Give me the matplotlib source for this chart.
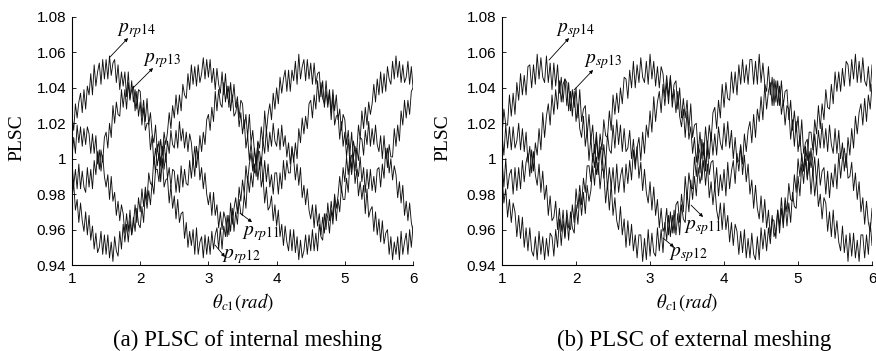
import matplotlib
matplotlib.use("Agg")
import matplotlib.pyplot as plt
import numpy as np

# theta_c1 sampled every 0.025 rad from 1 to 6 (201 samples)
THETA_START = 1.0
THETA_STOP = 6.0

# PLSC values, stored as (PLSC - 1) * 1000
# (a) internal meshing
INT_P14 = [24, 16, 31, 23, 32, 37, 26, 39, 28, 41, 36, 48, 36, 53, 41, 49, 54, 42, 56, 45,
           56, 45, 58, 47, 54, 56, 43, 53, 39, 49, 41, 49, 35, 49, 34, 39, 41, 27, 38, 24,
           32, 19, 29, 16, 20, 20, 5, 13, -3, 6, -4, 3, -13, 0, -16, -12, -11, -25, -15, -28,
           -21, -34, -23, -36, -31, -30, -45, -36, -50, -41, -49, -40, -54, -39, -54, -47, -44, -56, -43, -54,
           -44, -54, -41, -51, -43, -39, -51, -39, -51, -38, -44, -32, -43, -25, -37, -28, -22, -31, -16, -24,
           -12, -20, -4, -13, -3, 3, -7, 6, -4, 10, 6, 18, 8, 27, 15, 25, 31, 22, 37, 28,
           40, 31, 46, 37, 45, 50, 38, 50, 38, 50, 44, 55, 42, 59, 45, 52, 56, 44, 56, 45,
           54, 42, 54, 42, 48, 49, 35, 44, 29, 38, 29, 37, 22, 36, 19, 24, 25, 11, 21, 7,
           15, 1, 11, -3, 2, 2, -14, -6, -21, -13, -23, -15, -31, -17, -33, -29, -27, -41, -30, -43,
           -34, -47, -35, -48, -42, -40, -54, -44, -57, -47, -54, -44, -57, -41, -54, -47, -42, -54, -40, -50,
           -38]
INT_P12 = [-22, -14, -29, -23, -36, -25, -35, -41, -30, -43, -32, -46, -38, -51, -42, -53, -50, -41, -54, -43,
           -54, -43, -56, -47, -58, -44, -52, -55, -41, -51, -37, -47, -37, -47, -35, -43, -37, -26, -36, -22,
           -30, -17, -27, -16, -24, -8, -14, -15, 1, -8, 8, -1, 11, 2, 15, 8, 15, 26, 17, 30,
           23, 36, 25, 36, 27, 42, 36, 34, 48, 39, 53, 42, 52, 41, 53, 43, 48, 57, 45, 56,
           46, 56, 43, 51, 39, 51, 42, 37, 49, 36, 48, 34, 41, 27, 36, 24, 26, 32, 18, 26,
           14, 22, 6, 13, -1, 9, -2, -8, 2, -12, -2, -16, -10, -25, -16, -29, -27, -21, -35, -26,
           -38, -29, -44, -37, -49, -38, -47, -52, -40, -52, -40, -53, -44, -57, -46, -56, -52, -43, -54, -43,
           -52, -40, -52, -42, -52, -37, -44, -46, -31, -40, -25, -35, -24, -34, -20, -28, -21, -10, -19, -5,
           -13, 1, -9, 3, -6, 10, 5, 4, 19, 11, 27, 17, 29, 19, 32, 25, 31, 42, 32, 45,
           36, 49, 37, 48, 38, 52, 45, 42, 55, 45, 58, 46, 55, 43, 53, 43, 46, 55, 42, 52,
           40]
INT_P13 = [-2, -15, -6, -17, -3, -17, -7, -16, -19, -5, -16, -6, -17, -1, -9, 4, -6, 5, -2, 12,
           15, 6, 20, 12, 30, 20, 32, 25, 24, 39, 29, 39, 28, 43, 33, 44, 32, 39, 28, 39,
           38, 24, 33, 21, 34, 19, 26, 14, 9, 19, 4, 10, -4, 7, -6, 3, -11, -5, -16, -6,
           -7, -19, -9, -19, -4, -16, -6, -14, -15, -1, -11, 0, -10, 7, 0, 13, 4, 15, 8, 22,
           25, 16, 29, 21, 38, 27, 39, 31, 29, 43, 32, 41, 29, 43, 32, 42, 29, 35, 23, 33,
           31, 17, 25, 12, 25, 9, 16, 4, -1, 9, -6, 1, -13, -1, -13, -3, -16, -9, -20, -8,
           -8, -20, -8, -17, -1, -12, -1, -8, -8, 7, -2, 9, 0, 17, 9, 23, 14, 24, 17, 31,
           33, 23, 36, 28, 44, 32, 43, 34, 31, 44, 31, 39, 26, 39, 27, 36, 22, 28, 16, 25,
           22, 8, 16, 3, 15, 0, 7, -5, -10, 1, -13, -5, -19, -6, -17, -6, -18, -10, -19, -6,
           -5, -16, -3, -11, 6, -5, 8, 1, 1, 17, 7, 19, 10, 27, 19, 33, 23, 33, 25, 38,
           40]
INT_P11 = [1, 12, 3, 19, 9, 18, 7, 17, 8, 18, 14, 3, 14, 3, 13, -3, 5, -7, 2, -10,
           -16, -9, -23, -10, -24, -19, -32, -24, -35, -26, -31, -42, -31, -41, -29, -43, -33, -41, -28, -37,
           -39, -27, -36, -19, -28, -18, -26, -13, -20, -6, -6, -13, 1, -5, 10, -2, 10, 3, 16, 8,
           6, 16, 6, 21, 10, 17, 6, 15, 4, 14, 9, -3, 7, -5, 4, -12, -5, -17, -8, -20,
           -26, -19, -32, -19, -32, -26, -39, -30, -40, -30, -34, -44, -32, -41, -28, -41, -30, -37, -23, -31,
           -32, -20, -28, -10, -19, -8, -16, -3, -10, 4, 4, -4, 10, 3, 17, 4, 15, 7, 20, 10,
           7, 17, 5, 19, 7, 13, 1, 9, -3, 6, 0, -12, -3, -15, -5, -22, -15, -26, -17, -29,
           -34, -26, -39, -26, -38, -31, -43, -33, -42, -31, -33, -42, -29, -37, -23, -35, -23, -30, -16, -23,
           -23, -11, -19, -1, -9, 1, -7, 6, -1, 12, 11, 2, 16, 8, 21, 7, 17, 8, 19, 8,
           4, 13, 0, 13, 0, 6, -8, 0, -12, -4, -9, -22, -13, -25, -15, -32, -24, -35, -25, -36,
           -41]

# (b) external meshing
EXT_P14 = [13, 28, 19, 19, 36, 24, 37, 25, 43, 33, 48, 36, 47, 36, 52, 53, 40, 53, 42, 59,
           45, 57, 46, 43, 58, 43, 54, 39, 54, 41, 53, 37, 46, 32, 45, 43, 27, 38, 24, 38,
           21, 31, 17, 12, 24, 7, 16, -1, 12, -2, 8, -9, -2, -17, -5, -8, -25, -14, -29, -14,
           -32, -22, -35, -40, -27, -43, -34, -50, -35, -49, -37, -52, -43, -56, -43, -43, -58, -45, -57, -40,
           -55, -42, -53, -55, -39, -52, -40, -53, -36, -46, -32, -44, -32, -42, -26, -24, -36, -20, -30, -10,
           -23, -8, -16, -17, 1, -10, 4, -8, 11, 2, 18, 6, 19, 10, 26, 29, 17, 33, 23, 42,
           29, 43, 34, 33, 49, 37, 49, 36, 53, 42, 56, 43, 53, 42, 56, 56, 42, 55, 42, 59,
           43, 54, 42, 38, 52, 36, 46, 30, 44, 30, 41, 25, 33, 19, 30, 28, 11, 22, 7, 21,
           4, 13, -1, -7, 6, -11, -3, -20, -6, -21, -11, -27, -20, -34, -22, -25, -41, -30, -44, -29,
           -45, -35, -47, -52, -38, -53, -43, -58, -42, -55, -42, -56, -46, -58, -43, -43, -56, -43, -54, -36,
           -49]
EXT_P12 = [-9, -25, -17, -33, -23, -36, -25, -30, -44, -32, -45, -33, -50, -39, -52, -39, -52, -55, -44, -57,
           -41, -54, -44, -57, -45, -55, -42, -44, -55, -40, -50, -34, -49, -35, -45, -29, -39, -40, -26, -36,
           -17, -28, -15, -26, -11, -19, -4, -4, -13, 3, -5, 12, -1, 14, 5, 22, 13, 12, 27, 16,
           36, 25, 37, 26, 40, 31, 46, 45, 34, 50, 40, 55, 40, 53, 43, 57, 46, 43, 55, 42,
           59, 45, 55, 41, 52, 40, 52, 48, 35, 47, 35, 47, 29, 39, 26, 38, 24, 18, 28, 12,
           27, 11, 18, 3, 12, -2, 8, 3, -12, -1, -15, -3, -22, -13, -26, -15, -29, -35, -25, -40,
           -25, -40, -32, -47, -36, -49, -37, -41, -54, -41, -53, -40, -56, -45, -56, -42, -54, -57, -44, -57,
           -39, -51, -40, -52, -39, -48, -34, -35, -45, -29, -38, -22, -36, -22, -30, -14, -23, -24, -9, -19,
           0, -10, 3, -7, 7, -1, 15, 15, 5, 22, 14, 30, 17, 31, 22, 39, 29, 28, 42, 31,
           49, 38, 49, 38, 51, 41, 55, 53, 41, 56, 45, 59, 43, 55, 43, 57, 44, 41, 52, 38,
           53]
EXT_P13 = [0, -16, 0, -17, -9, -6, -20, -5, -18, -5, -17, -1, -13, -2, 3, -10, 5, -7, 9, 2,
           17, 5, 26, 12, 24, 31, 19, 36, 25, 39, 28, 44, 32, 42, 45, 30, 43, 27, 39, 29,
           40, 23, 39, 21, 28, 30, 13, 25, 10, 19, 3, 15, 0, 6, 6, -11, 0, -17, -5, -16,
           -5, -20, -3, -19, -10, -5, -19, -3, -14, -1, -12, 5, -6, 6, 12, -1, 15, 3, 19, 12,
           27, 15, 35, 21, 32, 38, 26, 42, 30, 43, 31, 46, 33, 42, 44, 28, 40, 23, 34, 23,
           33, 16, 31, 12, 19, 20, 3, 15, 0, 9, -7, 6, -9, -2, -1, -17, -5, -21, -9, -18,
           -6, -21, -2, -17, -7, -1, -14, 3, -7, 7, -3, 14, 4, 16, 21, 9, 25, 12, 28, 21,
           35, 22, 42, 28, 38, 43, 30, 45, 32, 44, 30, 44, 30, 38, 39, 22, 33, 16, 27, 15,
           24, 7, 22, 3, 9, 11, -6, 6, -9, 1, -14, 0, -15, -7, -5, -20, -7, -22, -8, -16,
           -3, -17, 3, -11, 0, 6, -5, 12, 2, 17, 6, 24, 14, 26, 31, 19, 34, 21, 36, 28,
           42]
EXT_P11 = [14, 2, 19, 6, 18, 5, 18, 6, 10, 20, 5, 17, 4, 15, -2, 7, -8, 4, -9, -15,
           -3, -19, -7, -23, -15, -32, -21, -35, -33, -24, -40, -28, -41, -29, -44, -33, -46, -30, -39, -42,
           -26, -37, -20, -32, -19, -31, -15, -24, -18, -4, -15, 1, -9, 7, -5, 8, -3, 14, 5, 3,
           19, 6, 22, 8, 19, 4, 17, 4, 6, 16, 0, 11, -3, 7, -11, -2, -18, -6, -19, -25,
           -13, -29, -16, -32, -23, -39, -28, -41, -38, -28, -43, -30, -42, -29, -43, -31, -43, -26, -34, -36,
           -19, -30, -12, -23, -10, -21, -5, -14, -8, 6, -5, 10, 0, 15, 2, 14, 2, 18, 9, 5,
           20, 7, 21, 6, 16, 0, 12, -2, -1, 8, -9, 2, -13, -3, -20, -12, -28, -15, -28, -34,
           -21, -36, -23, -39, -29, -44, -32, -44, -40, -29, -42, -28, -39, -25, -38, -25, -36, -19, -27, -28,
           -10, -21, -3, -14, 0, -12, 4, -5, 1, 14, 2, 16, 6, 20, 6, 17, 4, 19, 8, 3,
           17, 3, 16, 0, 9, -7, 3, -11, -10, -2, -18, -8, -23, -13, -30, -22, -37, -24, -36, -41,
           -28]

X_TICKS = [1, 2, 3, 4, 5, 6]
Y_TICKS = [0.94, 0.96, 0.98, 1.00, 1.02, 1.04, 1.06, 1.08]
Y_TICK_LABELS = ["0.94", "0.96", "0.98", "1", "1.02", "1.04", "1.06", "1.08"]

plt.rcParams["mathtext.fontset"] = "stix"
SERIF = "Liberation Serif"
SANS = "Liberation Sans"


def to_plsc(values):
    return 1.0 + np.asarray(values, dtype=float) / 1000.0


def draw_panel(ax, curves, sub, notes):
    theta = np.linspace(THETA_START, THETA_STOP, len(curves[0]))
    for values in curves:
        ax.plot(theta, to_plsc(values), color="#111111", lw=0.65)

    ax.set_xlim(1, 6)
    ax.set_ylim(0.94, 1.08)
    ax.set_xticks(X_TICKS)
    ax.set_xticklabels([str(t) for t in X_TICKS], fontfamily=SANS, fontsize=11)
    ax.set_yticks(Y_TICKS)
    ax.set_yticklabels(Y_TICK_LABELS, fontfamily=SANS, fontsize=11)
    ax.tick_params(direction="in", length=3, width=0.6, pad=4)
    ax.tick_params(axis="x", pad=5)
    for side in ("top", "right"):
        ax.spines[side].set_visible(False)
    for side in ("left", "bottom"):
        ax.spines[side].set_linewidth(0.8)

    ax.set_ylabel("PLSC", fontfamily=SERIF, fontsize=14)
    ax.yaxis.set_label_coords(-0.138, 0.515)
    ax.set_xlabel(r"$\theta_{c\mathrm{1}}(rad)$", fontsize=13.5)
    ax.xaxis.set_label_coords(0.5, -0.105)

    for idx, tail, head, text_pos in notes:
        ax.annotate("", xy=head, xytext=tail,
                    arrowprops=dict(arrowstyle="-|>", color="black", lw=0.6,
                                    mutation_scale=5, shrinkA=0, shrinkB=0))
        ax.text(text_pos[0], text_pos[1], r"$p_{%s\mathrm{%s}}$" % (sub, idx),
                fontsize=14, ha="left", va="center", zorder=5)


def main() -> None:
    fig = plt.figure(figsize=(8.76, 3.51), dpi=100)
    ax_a = fig.add_axes([0.0822, 0.245, 0.3893, 0.7066])
    ax_b = fig.add_axes([0.5731, 0.245, 0.4224, 0.7066])

    notes_a = [
        ("14", (1.557, 1.0574), (1.821, 1.0681), (1.66, 1.0721)),
        ("13", (1.894, 1.0399), (2.188, 1.0512), (2.04, 1.0557)),
        ("11", (3.463, 0.9693), (3.639, 0.9642), (3.49, 0.958)),
        ("12", (3.097, 0.9513), (3.243, 0.9445), (3.20, 0.945)),
    ]
    notes_b = [
        ("14", (1.635, 1.0557), (1.905, 1.0681), (1.73, 1.0721)),
        ("13", (1.973, 1.0388), (2.230, 1.0501), (2.11, 1.0546)),
        ("11", (3.554, 0.9738), (3.716, 0.9671), (3.46, 0.9609)),
        ("12", (3.176, 0.9552), (3.324, 0.9501), (3.26, 0.9462)),
    ]

    draw_panel(ax_a, [INT_P14, INT_P13, INT_P12, INT_P11], "rp", notes_a)
    draw_panel(ax_b, [EXT_P14, EXT_P13, EXT_P12, EXT_P11], "sp", notes_b)

    fig.text(0.2831, 0.014, "(a) PLSC of internal meshing", fontfamily=SERIF,
             fontsize=16.5, ha="center", va="baseline")
    fig.text(0.792, 0.014, "(b) PLSC of external meshing", fontfamily=SERIF,
             fontsize=16.5, ha="center", va="baseline")

    fig.savefig("out.png", dpi=100)
    plt.close(fig)


if __name__ == "__main__":
    main()
